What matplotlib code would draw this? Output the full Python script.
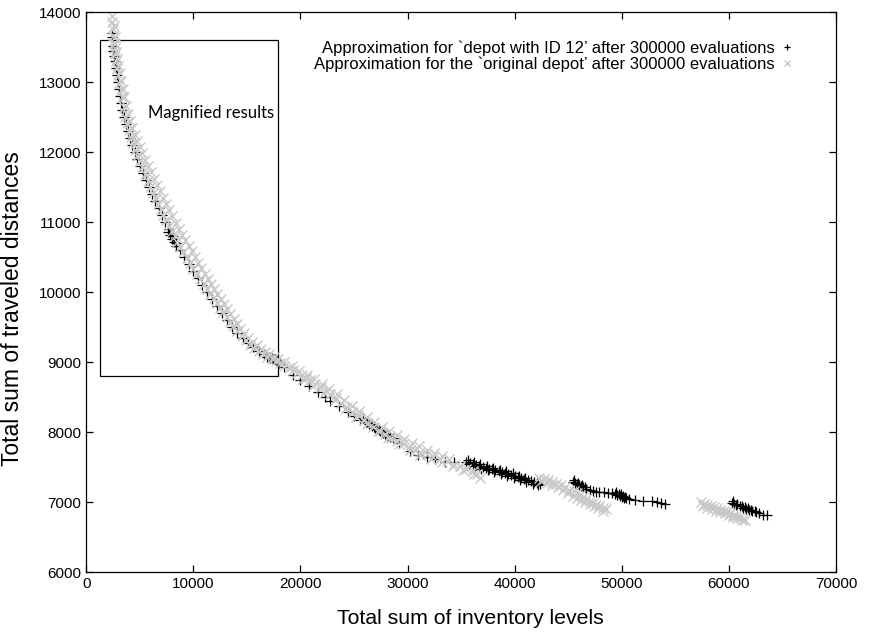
import matplotlib.pyplot as plt
import matplotlib.patches as patches

# Aproximacion 'depot with ID 12' (cruces negras)
dep12_x = [2430, 2440, 2460, 2510, 2580, 2650, 2740, 2830, 2930, 3040, 3150, 3260, 3370, 3490,
           3690, 3890, 4090, 4290, 4530, 4770, 5030, 5290, 5550, 5820, 6130, 6450, 6750, 7040,
           7380, 7730, 8070, 8410, 8760, 9120, 9550, 9980, 10400, 10810, 11260, 11710, 12200,
           12690, 13150, 13610, 14100, 14600, 15100, 15600, 16100, 16600,
           7600, 7800, 8000, 8200, 8400,
           16900, 17100, 17200, 17300, 17400, 17500, 17600, 17700, 17800, 17900, 18000,
           18500, 19300, 20000, 20800, 21600, 22300, 22800, 23600, 24400, 25000, 25600, 26100,
           26400, 26700, 27000, 27300, 27600, 27900, 28200, 28600, 29200, 30200, 31000, 31800,
           32600, 33500, 34300,
           25800, 26250, 26550, 26850, 27150, 27450, 27750, 28050, 28400,
           35500, 35800, 36100, 36400, 36700, 37000, 37300, 37600, 37900, 38200, 38500, 38800,
           39100, 39400, 39700, 40000, 40300, 40600, 40900, 41200, 41500, 41800, 42100, 42400,
           35700, 36300, 36900, 37500, 38100, 38700, 39300, 39900, 40500, 41100, 41700, 42200,
           35600, 36200, 36800, 37400, 38000, 38600, 39200, 39800, 40400, 41000,
           45400, 45600, 45800, 46000, 46200, 46400, 46700, 47000, 47300, 47600, 47900, 48300,
           48700, 49100, 49400, 49600, 49800, 50000, 50200, 50400, 50700, 51200, 52000, 52800,
           53300, 53700, 54000,
           45500, 45900, 46300, 46600, 49500, 49700, 49900, 50100, 50300,
           60300, 60500, 60700, 61000, 61300, 61600, 61900, 62200, 62500, 62800, 63200, 63600,
           60400, 60800, 61200, 61500, 61800, 62100, 62400]
dep12_y = [13700, 13650, 13520, 13450, 13370, 13300, 13200, 13100, 13000, 12900, 12800, 12700,
           12600, 12500, 12400, 12300, 12200, 12100, 12000, 11900, 11800, 11700, 11600, 11500,
           11400, 11300, 11200, 11100, 11000, 10900, 10800, 10700, 10600, 10500, 10400, 10300,
           10200, 10100, 10000, 9900, 9800, 9700, 9600, 9500, 9420, 9340, 9270, 9210, 9160, 9110,
           10860, 10810, 10760, 10710, 10660,
           9080, 9070, 9065, 9060, 9050, 9045, 9040, 9030, 9020, 9010, 8990,
           8930, 8820, 8750, 8660, 8570, 8500, 8450, 8370, 8290, 8230, 8180, 8150, 8120, 8090,
           8060, 8030, 8000, 7970, 7940, 7910, 7850, 7730, 7680, 7640, 7610, 7580, 7570,
           8200, 8150, 8120, 8080, 8050, 8020, 7990, 7960, 7930,
           7570, 7560, 7545, 7530, 7515, 7505, 7490, 7480, 7470, 7455, 7445, 7430, 7415, 7400,
           7385, 7370, 7355, 7340, 7325, 7310, 7300, 7285, 7275, 7265,
           7540, 7510, 7480, 7455, 7430, 7405, 7380, 7350, 7320, 7290, 7265, 7250,
           7595, 7570, 7540, 7515, 7490, 7465, 7440, 7410, 7380, 7350,
           7290, 7270, 7255, 7240, 7225, 7210, 7190, 7170, 7160, 7150, 7145, 7140, 7135, 7130,
           7120, 7100, 7090, 7075, 7065, 7055, 7045, 7030, 7020, 7010, 7000, 6990, 6980,
           7310, 7280, 7250, 7220, 7140, 7120, 7110, 7090, 7080,
           6990, 6970, 6955, 6940, 6920, 6905, 6890, 6870, 6855, 6840, 6820, 6810,
           7010, 6980, 6950, 6930, 6910, 6890, 6870]

# Aproximacion 'original depot' (aspas grises)
orig_x = [2430, 2450, 2480, 2520, 2580, 2650, 2720, 2800, 2880, 2980, 3080, 3200, 3330, 3480,
          3640, 3820, 4000, 4190, 4380, 4570, 4780, 5000, 5230, 5470, 5720, 5970, 6220, 6470,
          6720, 6960, 7190, 7450, 7720, 7990, 8250, 8500, 8780, 9080, 9380, 9690, 9990, 10320,
          10650, 10970, 11290, 11600, 11900, 12200, 12500, 12800, 13100, 13400, 13720, 14100,
          14500, 14900, 15300, 15700, 16100, 16500, 16900, 17300, 17700, 18100, 18500, 18900,
          19300, 19700, 20100, 20500, 20900, 21400, 21900, 22400, 22800, 23300, 23800, 24300,
          24900, 25400, 25900, 26300, 26800, 27400, 27900, 28500, 29000, 29600, 30100, 30700,
          31200, 31800, 32400, 33000, 33700, 34300, 34900, 35500, 36100, 36500, 36800,
          2600, 2650, 2720, 2800, 2900, 3000, 3120, 3250, 3400, 3550, 3720, 3900, 4100, 4300,
          4520, 4750, 4980, 5220, 5470, 5730, 6000, 6280, 6560, 6850, 7150, 7450, 7750, 8050,
          8350, 8650, 8950, 9250, 9550, 9850, 10150, 10450, 10750, 11050, 11350, 11650, 11950,
          12250, 12550, 12850, 13150, 13450, 13750, 14050, 14400, 14750, 15100, 15500, 15900,
          16300, 16700, 17100, 17500, 17900,
          18500, 19200, 19900, 20600, 21300, 22000, 22700, 23400, 24100, 24800, 25500, 26200,
          26900, 27600, 28300, 29000, 29700, 30400, 31100, 31800, 32500, 33200, 33900,
          20200, 21200, 22200, 23200, 24200, 25200, 26200, 27200, 28200, 29200, 30200, 31200,
          32200, 33200, 34200, 35200, 36200,
          42300, 42700, 43100, 43500, 43900, 44300, 44700, 45100, 45500, 45800, 46100, 46400,
          46700, 47000, 47300, 47600, 47900, 48200, 48500,
          42500, 43000, 43500, 44000, 44500, 45000, 45400, 45800, 46200, 46600, 47000, 47400,
          47800, 48200,
          57400, 57700, 58000, 58300, 58600, 58900, 59200, 59500, 59800, 60100, 60400, 60700,
          61000, 61300, 61500,
          57600, 58000, 58400, 58800, 59200, 59600, 60000, 60400, 60800, 61200]
orig_y = [13950, 13860, 13760, 13660, 13560, 13480, 13400, 13300, 13200, 13100, 12990, 12890,
          12780, 12640, 12500, 12410, 12320, 12220, 12130, 12030, 11950, 11870, 11780, 11690,
          11590, 11500, 11420, 11340, 11260, 11180, 11100, 11030, 10950, 10870, 10800, 10720,
          10650, 10570, 10490, 10410, 10330, 10260, 10180, 10110, 10040, 9970, 9910, 9840, 9780,
          9710, 9650, 9580, 9510, 9450, 9380, 9310, 9250, 9200, 9160, 9120, 9080, 9050, 9020,
          8985, 8950, 8920, 8890, 8850, 8810, 8780, 8740, 8690, 8640, 8590, 8550, 8490, 8420,
          8360, 8290, 8240, 8180, 8130, 8080, 8020, 7970, 7920, 7880, 7830, 7790, 7750, 7720,
          7690, 7650, 7620, 7590, 7550, 7520, 7480, 7450, 7400, 7350,
          13800, 13650, 13550, 13430, 13330, 13230, 13130, 13020, 12900, 12780, 12660, 12540,
          12440, 12350, 12250, 12160, 12070, 11980, 11890, 11800, 11710, 11620, 11530, 11440,
          11350, 11260, 11170, 11080, 10990, 10900, 10820, 10740, 10660, 10580, 10500, 10420,
          10340, 10260, 10180, 10110, 10040, 9970, 9900, 9830, 9760, 9690, 9620, 9550, 9480,
          9410, 9350, 9290, 9240, 9190, 9150, 9110, 9080, 9040,
          9000, 8940, 8880, 8820, 8760, 8690, 8620, 8540, 8460, 8380, 8300, 8220, 8150, 8080,
          8020, 7960, 7900, 7850, 7800, 7740, 7700, 7660, 7620,
          8760, 8660, 8560, 8460, 8330, 8210, 8110, 8010, 7910, 7830, 7750, 7680, 7620, 7570,
          7520, 7460, 7400,
          7350, 7330, 7310, 7290, 7260, 7240, 7210, 7180, 7160, 7130, 7100, 7070, 7040, 7010,
          6990, 6960, 6940, 6920, 6900,
          7300, 7270, 7240, 7210, 7180, 7130, 7090, 7060, 7030, 7000, 6970, 6940, 6910, 6880,
          7000, 6980, 6960, 6950, 6930, 6910, 6890, 6870, 6860, 6840, 6820, 6800, 6780, 6760,
          6740,
          6950, 6920, 6900, 6880, 6860, 6840, 6810, 6790, 6770, 6740]

xticks = [0, 10000, 20000, 30000, 40000, 50000, 60000, 70000]
yticks = [6000, 7000, 8000, 9000, 10000, 11000, 12000, 13000, 14000]

plt.rcParams['font.family'] = ['Liberation Sans', 'DejaVu Sans']

fig = plt.figure(figsize=(8.8, 6.35), dpi=100)
ax = fig.add_axes([0.098, 0.099, 0.852, 0.882])

ax.plot(dep12_x, dep12_y, '+', color='black', markersize=6.5, markeredgewidth=0.9,
        label="Approximation for `depot with ID 12’ after 300000 evaluations")
ax.plot(orig_x, orig_y, 'x', color='#c8c8c8', markersize=6.5, markeredgewidth=1.0,
        label="Approximation for the `original depot’ after 300000 evaluations")

# Recuadro de resultados ampliados
rect = patches.Rectangle((1300, 8800), 16600, 4800, fill=False, edgecolor='black', linewidth=0.9)
ax.add_patch(rect)
ax.text(5800, 12560, 'Magnified results', fontsize=12, family=['Lato', 'DejaVu Sans'],
        va='center')

ax.set_xlim(0, 70000)
ax.set_ylim(6000, 14000)
ax.set_xticks(xticks)
ax.set_yticks(yticks)
ax.tick_params(direction='in', top=True, right=True, length=5, width=0.9, labelsize=11)
for s in ax.spines.values():
    s.set_linewidth(0.9)

ax.set_xlabel('Total sum of inventory levels', fontsize=15.3)
ax.set_ylabel('Total sum of traveled distances', fontsize=16.5)
ax.xaxis.set_label_coords(0.513, -0.066)
ax.yaxis.set_label_coords(-0.083, 0.471)

ax.legend(loc='upper right', bbox_to_anchor=(0.954, 0.965), frameon=False, markerfirst=False,
          fontsize=12, handlelength=0.8, handletextpad=0.3, labelspacing=0.05, borderpad=0,
          markerscale=0.75)

fig.savefig('out.png', dpi=100)
